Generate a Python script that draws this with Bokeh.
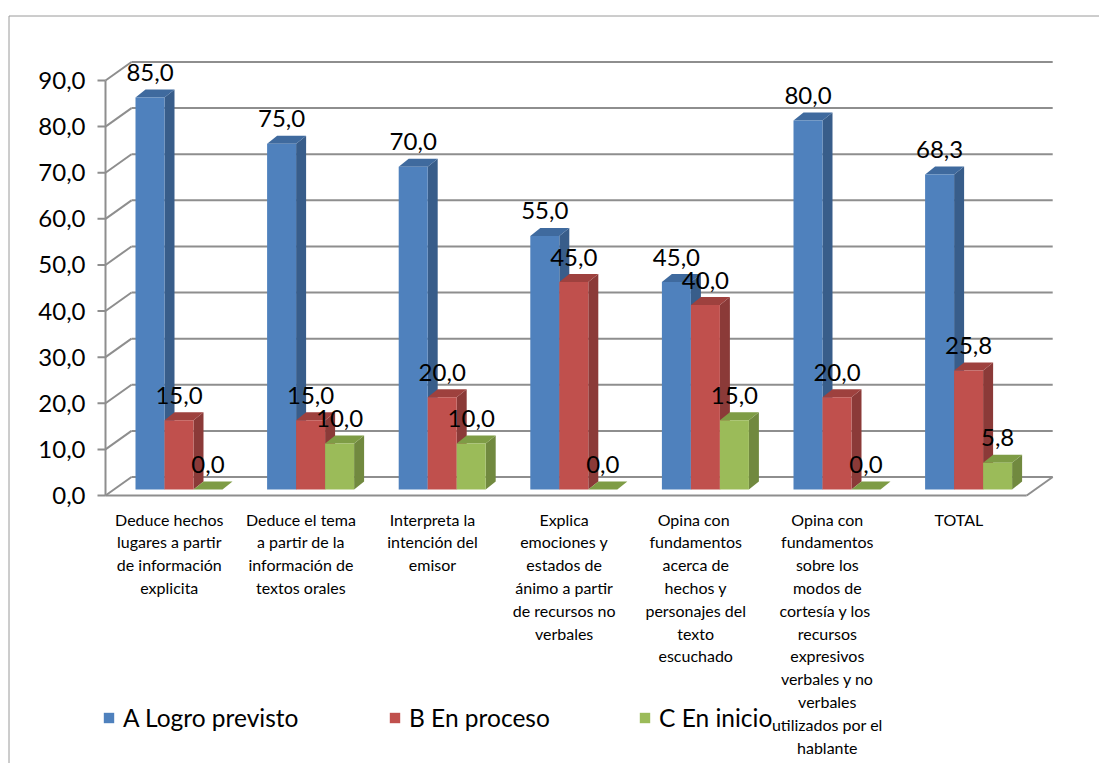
from bokeh.plotting import figure
from bokeh.models import Range1d, Legend, LegendItem
from bokeh.core.properties import value
from bokeh.embed import file_html
from bokeh.resources import INLINE

# ---------------- data ----------------
categories = [
    "Deduce hechos\nlugares a partir\nde información\nexplicita",
    "Deduce el tema\na partir de la\ninformación de\ntextos orales",
    "Interpreta la\nintención del\nemisor",
    "Explica\nemociones y\nestados de\nánimo a partir\nde recursos no\nverbales",
    "Opina  con\nfundamentos\nacerca de\nhechos y\npersonajes del\ntexto\nescuchado",
    "Opina con\nfundamentos\nsobre los\nmodos de\ncortesía  y los\nrecursos\nexpresivos\nverbales y no\nverbales\nutilizados por el\nhablante",
    "TOTAL",
]
logro_previsto = [85.0, 75.0, 70.0, 55.0, 45.0, 80.0, 68.3]
en_proceso = [15.0, 15.0, 20.0, 45.0, 40.0, 20.0, 25.8]
en_inicio = [0.0, 10.0, 10.0, 0.0, 15.0, 0.0, 5.8]
series_names = ["A Logro previsto", "B En proceso", "C En inicio"]
y_ticks = [0, 10, 20, 30, 40, 50, 60, 70, 80, 90]

# ---------------- styling / geometry ----------------
W, H = 1099, 763
SX = 131.6      # px per category
SY = 4.611      # px per value unit
OX, OY = 105, 495   # page position of the front axis origin
PAGE = 0

def dx(px):
    return px / SX

def dy(px):
    return px / SY

x_start = (PAGE - OX) / SX
x_end = (PAGE + W - OX) / SX
y_end = (OY - PAGE) / SY
y_start = (OY - (PAGE + H)) / SY

FONT = value("Lato")
GRID = "#8e8e8e"

p = figure(width=W, height=H, output_backend="svg", toolbar_location=None,
           x_range=Range1d(x_start, x_end), y_range=Range1d(y_start, y_end),
           min_border=0)
p.axis.visible = False
p.grid.visible = False
p.outline_line_color = None
p.background_fill_color = "white"
p.border_fill_color = "white"

# outer chart border (top and left)
bx = (8.5 - OX) / SX
by = (OY - 15.5) / SY
p.line([bx, x_end], [by, by], line_color="#9a9a9a", line_width=1)
p.line([bx, bx], [by, y_start], line_color="#9a9a9a", line_width=1)

n = len(categories)
WDX, WDY = dx(26), dy(18.5)

# back wall gridlines + left wall diagonals
p.segment(x0=[WDX] * len(y_ticks), y0=[t + WDY for t in y_ticks],
          x1=[n + WDX] * len(y_ticks), y1=[t + WDY for t in y_ticks],
          line_color=GRID, line_width=2)
p.segment(x0=[0] * len(y_ticks), y0=y_ticks,
          x1=[WDX] * len(y_ticks), y1=[t + WDY for t in y_ticks],
          line_color=GRID, line_width=2)
# front axis line, floor front and right edge
p.segment(x0=[0, 0, n], y0=[0, 0, 0], x1=[0, n, n + WDX], y1=[max(y_ticks), 0, WDY],
          line_color=GRID, line_width=2)
# tick marks
p.segment(x0=[dx(-8)] * len(y_ticks), y0=y_ticks, x1=[0] * len(y_ticks), y1=y_ticks,
          line_color=GRID, line_width=2)

def fmt(v):
    return f"{v:.1f}".replace(".", ",")

# y tick labels
p.text(x=[dx(-20)] * len(y_ticks), y=y_ticks, text=[fmt(t) for t in y_ticks],
       text_font=FONT, text_font_size="24px", text_align="right",
       text_baseline="middle", text_color="black")

# bars
BW = dx(29)
BOFF = dx(30)
BASE = dy(6)
BDX, BDY = dx(10), dy(8)
series = [logro_previsto, en_proceso, en_inicio]
front_colors = ["#4F81BD", "#C0504D", "#9BBB59"]
side_colors = ["#385D8A", "#8B3A38", "#71893F"]
top_colors = ["#3F6A9E", "#9E413E", "#7E9C45"]

legend_renderers = []
for s, vals in enumerate(series):
    lefts = [i + BOFF + s * BW for i in range(n)]
    rights = [l + BW for l in lefts]
    bottoms = [BASE] * n
    tops = [BASE + v for v in vals]
    side_xs = [[r, r + BDX, r + BDX, r] for r in rights]
    side_ys = [[b, b + BDY, t + BDY, t] for b, t in zip(bottoms, tops)]
    top_xs = [[l, l + BDX, r + BDX, r] for l, r in zip(lefts, rights)]
    top_ys = [[t, t + BDY, t + BDY, t] for t in tops]
    p.patches(side_xs, side_ys, fill_color=side_colors[s], line_color=None)
    p.patches(top_xs, top_ys, fill_color=top_colors[s], line_color=None)
    r = p.quad(left=lefts, right=rights, bottom=bottoms, top=tops,
               fill_color=front_colors[s], line_color=None)
    legend_renderers.append(r)

# data labels
for s, vals in enumerate(series):
    cx = [i + BOFF + s * BW + BW / 2 for i in range(n)]
    ly = [BASE + v + dy(25) for v in vals]
    p.text(x=cx, y=ly, text=[fmt(v) for v in vals], text_font=FONT,
           text_font_size="24px", text_align="center", text_baseline="alphabetic",
           text_color="black")

# category labels
p.text(x=[i + 0.5 - dx(2) for i in range(n)], y=[dy(-14)] * n, text=categories,
       text_font=FONT, text_font_size="16px", text_align="center",
       text_baseline="top", text_line_height=1.2, text_color="black")

# legends
leg_x = [102, 388, 638]
for s in range(3):
    leg = Legend(items=[LegendItem(label=series_names[s], renderers=[legend_renderers[s]])],
                 location=(leg_x[s], H - 732), orientation="horizontal",
                 border_line_color=None, background_fill_alpha=0,
                 padding=0, margin=0, glyph_width=13, glyph_height=13,
                 label_standoff=8, label_text_font="Lato",
                 label_text_font_size="24.5px", label_text_color="black")
    p.add_layout(leg)

open("out.html", "w").write(file_html(p, INLINE))
